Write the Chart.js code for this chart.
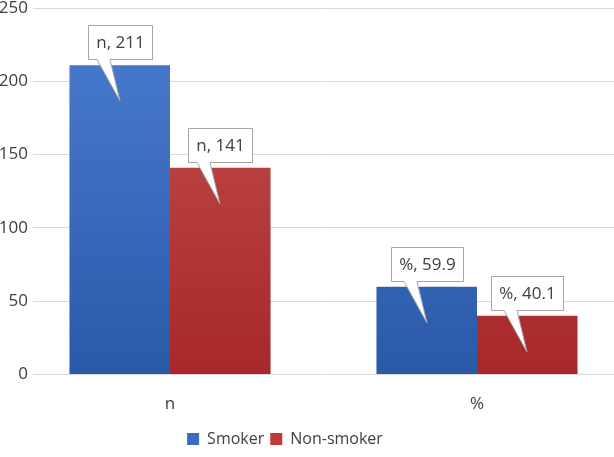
<!DOCTYPE html>
<html>
<head>
<meta charset="utf-8">
<script src="https://cdn.jsdelivr.net/npm/chart.js@4/dist/chart.umd.min.js"></script>
<style>
html,body{margin:0;padding:0;background:#fff;overflow:hidden;}
#wrap{width:614px;height:457px;position:relative;}
</style>
</head>
<body>
<div id="wrap"><canvas id="chart"></canvas></div>
<script>
const categories=['n','%'];
const smoker=[211,59.9];
const nonSmoker=[141,40.1];
const seriesNames=['Smoker','Non-smoker'];
const yTicks=[0,50,100,150,200,250];

const FONT='"Open Sans", "Liberation Sans", sans-serif';
const TEXT='#404040';
const solid=['#3a6cc4','#bf3a38'];
const grads=[['#4a7dd2','#2a59a8'],['#c7514f','#a7282a']];

function barFill(k){
  return ctx=>{
    const a=ctx.chart.chartArea;
    if(!a) return solid[k];
    const g=ctx.chart.ctx.createLinearGradient(0,a.top,0,a.bottom);
    g.addColorStop(0,grads[k][0]);g.addColorStop(1,grads[k][1]);
    return g;
  };
}

// speech-bubble labels "category, value" above each bar
const callouts={
  id:'callouts',
  afterLayout(chart){
    // legend sits a little left of centre in the original
    const l=chart.legend;
    if(l){l.left-=22;l.right-=22;}
  },
  afterDatasetsDraw(chart){
    const c=chart.ctx;
    c.save();
    c.font='17px '+FONT;
    c.textAlign='center';c.textBaseline='middle';
    chart.data.datasets.forEach((ds,di)=>{
      chart.getDatasetMeta(di).data.forEach((bar,i)=>{
        const txt=categories[i]+', '+ds.data[i].y;
        const w=Math.round(c.measureText(txt).width+16);
        const h=34;
        const cx=Math.round(bar.x);
        const bottom=Math.round(bar.y)-6;
        const left=cx-Math.round(w/2)+0.5, right=left+w, top=bottom-h+0.5, bot=bottom+0.5;
        c.beginPath();
        c.moveTo(left,top);c.lineTo(right,top);c.lineTo(right,bot);
        c.lineTo(cx-10,bot);c.lineTo(cx,Math.round(bar.y)+36);c.lineTo(cx-23,bot);
        c.lineTo(left,bot);c.closePath();
        c.fillStyle='#fff';c.fill();
        c.strokeStyle='#a6a6a6';c.lineWidth=1;c.stroke();
        c.fillStyle=TEXT;
        c.fillText(txt,(left+right)/2,(top+bot)/2+1);
      });
    });
    c.restore();
  }
};

new Chart(document.getElementById('chart'),{
  type:'bar',
  data:{
    datasets:[
      {label:seriesNames[0],data:smoker.map((v,i)=>({x:i,y:v})),backgroundColor:barFill(0),borderWidth:0},
      {label:seriesNames[1],data:nonSmoker.map((v,i)=>({x:i,y:v})),backgroundColor:barFill(1),borderWidth:0}
    ]
  },
  options:{
    responsive:true,maintainAspectRatio:false,animation:false,
    categoryPercentage:0.655,barPercentage:1,
    layout:{padding:{top:8,right:0,bottom:0,left:0}},
    scales:{
      x:{
        type:'linear',min:-0.4463,max:1.4463,offset:false,
        afterBuildTicks:s=>{s.ticks=categories.map((_,i)=>({value:i}));},
        grid:{display:false,offset:false},border:{display:false},
        ticks:{callback:v=>categories[v],color:TEXT,font:{family:FONT,size:17},padding:11,maxRotation:0}
      },
      y:{
        min:0,max:250,
        afterBuildTicks:s=>{s.ticks=yTicks.map(v=>({value:v}));},
        afterFit:s=>{s.width=33;s.paddingTop=0;},
        grid:{color:'#d9d9d9',lineWidth:1,drawTicks:false},
        border:{display:false},
        ticks:{color:TEXT,font:{family:FONT,size:17},padding:5}
      }
    },
    plugins:{
      legend:{
        position:'bottom',
        labels:{
          color:TEXT,font:{family:FONT,size:16},boxWidth:12,boxHeight:12,padding:6,
          generateLabels:ch=>Chart.defaults.plugins.legend.labels.generateLabels(ch).map((l,k)=>Object.assign(l,{fillStyle:solid[k],strokeStyle:solid[k],lineWidth:0}))
        }
      },
      tooltip:{enabled:false}
    }
  },
  plugins:[callouts]
});
</script>
</body>
</html>
